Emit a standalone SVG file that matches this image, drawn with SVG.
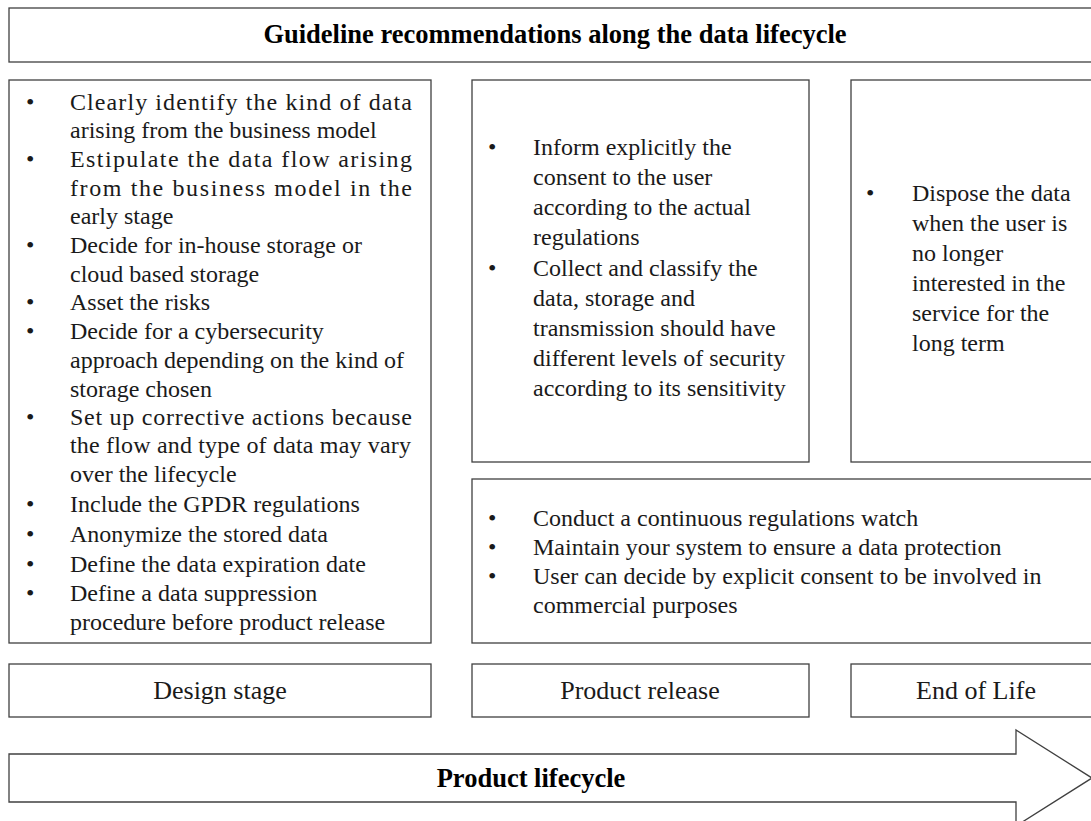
<svg xmlns="http://www.w3.org/2000/svg" width="1091" height="821" viewBox="0 0 1091 821">
<style>
  .box { fill: #ffffff; stroke: #404040; stroke-width: 1.3; }
  .t { font-family: "Liberation Serif", "Times New Roman", serif; font-size: 24px; fill: #1a1a1a; }
  .stage { font-family: "Liberation Serif", "Times New Roman", serif; font-size: 26px; fill: #1a1a1a; text-anchor: middle; }
  .bold { font-family: "Liberation Serif", "Times New Roman", serif; font-size: 26.5px; font-weight: bold; fill: #000000; text-anchor: middle; }
</style>
<rect width="1091" height="821" fill="#ffffff"/>

<g id="title">
  <rect class="box" x="9" y="8" width="1092" height="54"/>
  <text class="bold" x="555" y="43">Guideline recommendations along the data lifecycle</text>
</g>

<g id="design-recommendations">
  <rect class="box" x="9" y="80" width="422" height="563"/>
  <g class="t">
    <text x="26" y="110">•</text>
    <text x="70" y="110" textLength="342" lengthAdjust="spacing">Clearly identify the kind of data</text>
    <text x="70" y="138">arising from the business model</text>
    <text x="26" y="167">•</text>
    <text x="70" y="167" textLength="342" lengthAdjust="spacing">Estipulate the data flow arising</text>
    <text x="70" y="196" textLength="342" lengthAdjust="spacing">from the business model in the</text>
    <text x="70" y="224">early stage</text>
    <text x="26" y="253">•</text>
    <text x="70" y="253">Decide for in-house storage or</text>
    <text x="70" y="282">cloud based storage</text>
    <text x="26" y="310">•</text>
    <text x="70" y="310">Asset the risks</text>
    <text x="26" y="339">•</text>
    <text x="70" y="339">Decide for a cybersecurity</text>
    <text x="70" y="368">approach depending on the kind of</text>
    <text x="70" y="397">storage chosen</text>
    <text x="26" y="425">•</text>
    <text x="70" y="425" textLength="342" lengthAdjust="spacing">Set up corrective actions because</text>
    <text x="70" y="453" textLength="341" lengthAdjust="spacing">the flow and type of data may vary</text>
    <text x="70" y="482">over the lifecycle</text>
    <text x="26" y="512">•</text>
    <text x="70" y="512">Include the GPDR regulations</text>
    <text x="26" y="542">•</text>
    <text x="70" y="542">Anonymize the stored data</text>
    <text x="26" y="572">•</text>
    <text x="70" y="572">Define the data expiration date</text>
    <text x="26" y="601">•</text>
    <text x="70" y="601">Define a data suppression</text>
    <text x="70" y="630">procedure before product release</text>
  </g>
</g>

<g id="release-recommendations">
  <rect class="box" x="472" y="80" width="337" height="382"/>
  <g class="t">
    <text x="488" y="155">•</text>
    <text x="533" y="155">Inform explicitly the</text>
    <text x="533" y="185">consent to the user</text>
    <text x="533" y="215">according to the actual</text>
    <text x="533" y="245">regulations</text>
    <text x="488" y="276">•</text>
    <text x="533" y="276">Collect and classify the</text>
    <text x="533" y="306">data, storage and</text>
    <text x="533" y="336">transmission should have</text>
    <text x="533" y="366">different levels of security</text>
    <text x="533" y="396">according to its sensitivity</text>
  </g>
</g>

<g id="eol-recommendations">
  <rect class="box" x="851" y="80" width="250" height="382"/>
  <g class="t">
    <text x="866" y="201">•</text>
    <text x="912" y="201">Dispose the data</text>
    <text x="912" y="231">when the user is</text>
    <text x="912" y="261">no longer</text>
    <text x="912" y="291">interested in the</text>
    <text x="912" y="321">service for the</text>
    <text x="912" y="351">long term</text>
  </g>
</g>

<g id="continuous-recommendations">
  <rect class="box" x="472" y="479" width="629" height="164"/>
  <g class="t">
    <text x="488" y="526">•</text>
    <text x="533" y="526">Conduct a continuous regulations watch</text>
    <text x="488" y="555">•</text>
    <text x="533" y="555">Maintain your system to ensure a data protection</text>
    <text x="488" y="584">•</text>
    <text x="533" y="584">User can decide by explicit consent to be involved in</text>
    <text x="533" y="613">commercial purposes</text>
  </g>
</g>

<g id="stage-design">
  <rect class="box" x="9" y="664" width="422" height="53"/>
  <text class="stage" x="220" y="699">Design stage</text>
</g>
<g id="stage-release">
  <rect class="box" x="472" y="664" width="337" height="53"/>
  <text class="stage" x="640" y="699">Product release</text>
</g>
<g id="stage-eol">
  <rect class="box" x="851" y="664" width="250" height="53"/>
  <text class="stage" x="976" y="699">End of Life</text>
</g>

<g id="connectors">
  <g id="lifecycle-arrow">
    <polygon class="box" points="9,754 1016,754 1016,730 1092,778 1016,826 1016,802 9,802"/>
    <text class="bold" x="531" y="787">Product lifecycle</text>
  </g>
</g>
</svg>
